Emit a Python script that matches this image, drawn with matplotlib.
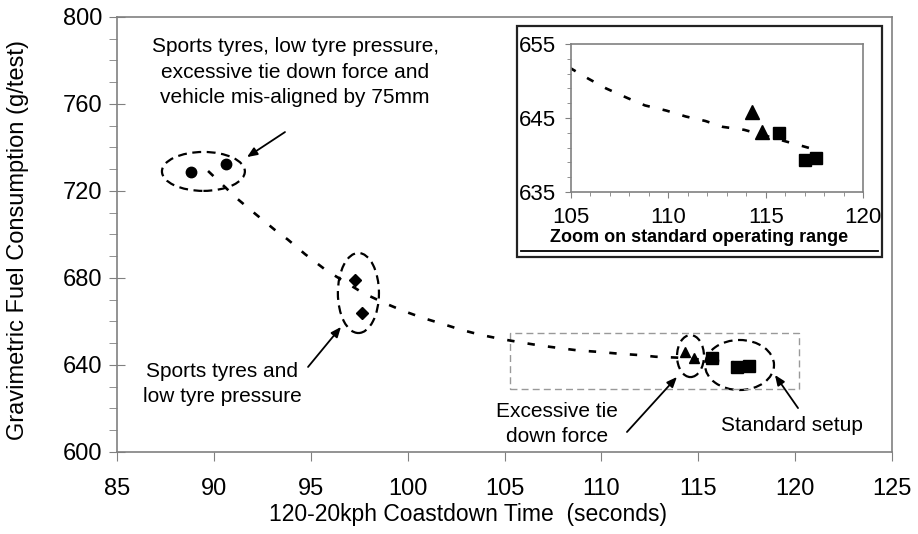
import matplotlib
matplotlib.use("Agg")
import matplotlib.pyplot as plt
from matplotlib.patches import Ellipse, Rectangle
from matplotlib.lines import Line2D
from matplotlib.ticker import MultipleLocator, FixedLocator

plt.rcParams['font.family'] = ['Liberation Sans', 'DejaVu Sans']

# measured points
circle_x = [88.8, 90.6]
circle_y = [728.7, 732.4]
diamond_x = [97.3, 97.65]
diamond_y = [679.1, 663.9]
triangle_x = [114.3, 114.8]
triangle_y = [645.8, 643.1]
square_x = [115.7, 117.0, 117.6]
square_y = [643.0, 639.3, 639.6]

# trend line
trend_x = [89.7, 91.2, 92.0, 93.3, 93.8, 94.7, 95.8, 97.7, 98.8, 99.8, 100.8,
           101.8, 102.8, 103.8, 104.8, 105.9, 106.8, 107.9, 108.8, 109.9,
           110.9, 111.9, 112.8, 113.9, 116.9, 117.3]
trend_y = [729.2, 716.5, 710.5, 701.0, 697.8, 691.0, 683.5, 673.1, 668.5,
           664.8, 661.6, 658.9, 656.1, 653.8, 652.0, 650.3, 649.0, 647.7,
           646.7, 646.0, 645.2, 644.6, 643.8, 643.4, 641.2, 640.9]

inset_yticks = [635, 645, 655]
inset_yminor = [637, 639, 641, 643, 647, 649, 651, 653]

GRAY = '#808080'
TREND_STYLE = dict(color='black', lw=1.9, linestyle=(0, (2.8, 5.0)))


def style_axes(ax):
    for s in ax.spines.values():
        s.set_color(GRAY)
        s.set_linewidth(1.2)


def main():
    fig = plt.figure(figsize=(9.18, 5.34), dpi=100)
    W, H = 918, 534
    ax = fig.add_axes([117 / W, (H - 452) / H, (892 - 117) / W, (452 - 17) / H])
    style_axes(ax)

    ax.plot(trend_x, trend_y, **TREND_STYLE)
    ax.plot(circle_x, circle_y, 'o', color='black', ms=7.5)
    ax.plot(diamond_x, diamond_y, 'D', color='black', ms=6.5)
    ax.plot(triangle_x, triangle_y, '^', color='black', ms=7.5)
    ax.plot(square_x, square_y, 's', color='black', ms=8)

    ax.set_xlim(85, 125)
    ax.set_ylim(600, 800)
    ax.xaxis.set_major_locator(MultipleLocator(5))
    ax.yaxis.set_major_locator(MultipleLocator(40))
    ax.yaxis.set_minor_locator(MultipleLocator(10))
    ax.tick_params(axis='x', which='major', direction='out', length=6.5,
                   color=GRAY, labelsize=17, pad=12)
    ax.tick_params(axis='y', which='major', direction='inout', length=11.5,
                   color=GRAY, labelsize=17, pad=5)
    ax.tick_params(axis='y', which='minor', direction='out', length=5.8,
                   color=GRAY)
    ax.set_xlabel("120-20kph Coastdown Time  (seconds)", fontsize=16.5)
    ax.set_ylabel("Gravimetric Fuel Consumption (g/test)", fontsize=17)
    ax.xaxis.set_label_coords(0.453, -0.117)
    ax.yaxis.set_label_coords(-0.113, 0.487)

    # grouping ellipses
    ell = dict(fill=False, edgecolor='black', lw=1.6, linestyle=(0, (4, 2.5)))
    ax.add_patch(Ellipse((89.46, 729.0), 4.28, 17.9, **ell))
    ax.add_patch(Ellipse((97.46, 673.1), 2.12, 36.8, **ell))
    ax.add_patch(Ellipse((114.6, 644.1), 1.39, 19.3, **ell))
    ax.add_patch(Ellipse((117.13, 640.0), 3.56, 23.0, **ell))
    ax.add_patch(Rectangle((105.3, 629.0), 14.9, 25.7, fill=False,
                           edgecolor='#999999', lw=1.0, linestyle=(0, (5, 3))))

    arrow = dict(arrowstyle='-|>,head_length=0.6,head_width=0.25',
                 color='black', lw=1.3, shrinkA=0, shrinkB=0)
    txt = dict(ha='center', va='center', fontsize=15, linespacing=1.45)
    ax.text(94.19, 774.7,
            "Sports tyres, low tyre pressure,\nexcessive tie down force and\nvehicle mis-aligned by 75mm",
            **txt)
    ax.annotate("", xy=(91.71, 735.6), xytext=(93.67, 747.1), arrowprops=arrow)
    ax.text(90.42, 631.3, "Sports tyres and\nlow tyre pressure", **txt)
    ax.annotate("", xy=(96.56, 657.5), xytext=(94.86, 639.1), arrowprops=arrow)
    ax.text(107.7, 612.9, "Excessive tie\ndown force", **txt)
    ax.annotate("", xy=(113.9, 634.5), xytext=(111.32, 609.2), arrowprops=arrow)
    ax.text(119.84, 612.4, "Standard setup", **txt)
    ax.annotate("", xy=(118.96, 635.4), xytext=(120.15, 620.2), arrowprops=arrow)

    # inset frame
    frame = Rectangle((517 / W, (H - 257) / H), 365 / W, 231 / H,
                      transform=fig.transFigure, facecolor='white',
                      edgecolor='#222222', lw=1.6, zorder=5, clip_on=False)
    ax.add_patch(frame)

    ins = fig.add_axes([571 / W, (H - 192) / H, (863 - 571) / W, (192 - 44) / H])
    style_axes(ins)
    ins.plot(trend_x, trend_y, **TREND_STYLE)
    ins.plot(triangle_x, triangle_y, '^', color='black', ms=9.5)
    ins.plot(square_x, square_y, 's', color='black', ms=9)
    ins.set_xlim(105, 120)
    ins.set_ylim(635, 655)
    ins.xaxis.set_major_locator(MultipleLocator(5))
    ins.xaxis.set_minor_locator(MultipleLocator(1))
    ins.yaxis.set_major_locator(FixedLocator(inset_yticks))
    ins.yaxis.set_minor_locator(FixedLocator(inset_yminor))
    ins.tick_params(which='major', direction='out', length=4.5, color=GRAY,
                    labelsize=16, pad=6)
    ins.tick_params(which='minor', direction='out', length=3, color=GRAY)

    fig.text(699 / W, (H - 238) / H, "Zoom on standard operating range",
             ha='center', va='center', fontsize=13, fontweight='bold')
    fig.add_artist(Line2D([521 / W, 878 / W], [(H - 251) / H] * 2,
                          transform=fig.transFigure, color='black', lw=1.3))

    fig.savefig("out.png", dpi=100)


if __name__ == '__main__':
    main()
